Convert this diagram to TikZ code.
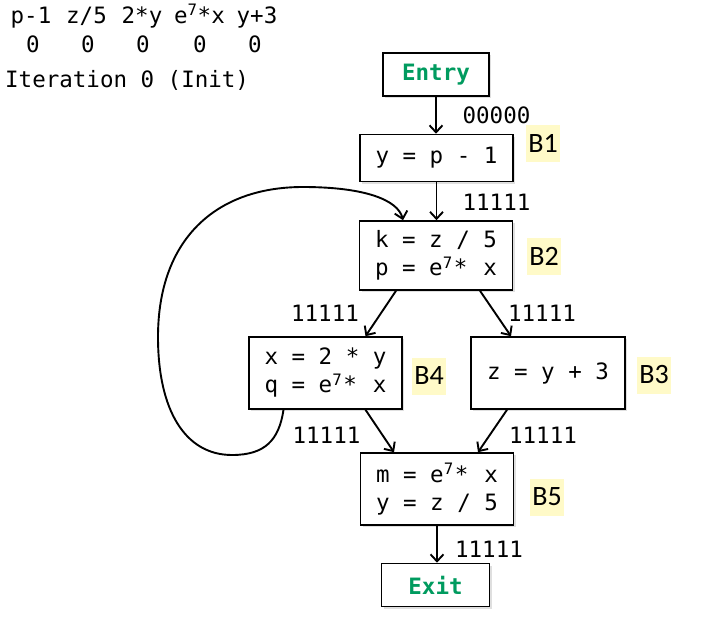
\documentclass[tikz,border=0pt]{standalone}
\usepackage{fontspec}
\setmonofont{DejaVu Sans Mono}
\newfontfamily\blabfont{Carlito}
\usetikzlibrary{arrows.meta,shadows}
\definecolor{entrygreen}{RGB}{0,155,95}
\definecolor{hl}{RGB}{255,250,200}
\newcommand\esev{e\makebox[27pt][l]{\textsuperscript{7}\kern1pt*}}
\begin{document}
\begin{tikzpicture}[x=1pt,y=-1pt,
  mono/.style={font=\ttfamily\fontsize{22.5}{28}\selectfont},
  blk/.style={draw, line width=1.6pt, fill=white, minimum width=153pt, minimum height=71pt, inner sep=0pt, align=left, mono,
    drop shadow={shadow xshift=2pt, shadow yshift=-2pt, opacity=0.25, fill=gray}},
  term/.style={blk, minimum width=106pt, minimum height=43pt, text=entrygreen, font=\ttfamily\bfseries\fontsize{22.5}{28}\selectfont},
  blab/.style={fill=hl, font=\blabfont\fontsize{28}{30}\selectfont, inner xsep=2pt, inner ysep=0pt, minimum height=37pt},
  elab/.style={mono, inner sep=0pt, anchor=base},
  flow/.style={line width=1.9pt, -{Straight Barb[length=7pt,width=13pt]}}]
\useasboundingbox (0,0) rectangle (708,621);

% header
\node[elab] (h1) at (31,23) {p-1};
\node[elab] (h2) at (86.5,23) {z/5};
\node[elab] (h3) at (142,23) {2*y};
\node[elab] (h4) at (199.5,23) {e\textsuperscript{7}*x};
\node[elab] (h5) at (257,23) {y+3};
\node[elab] (z1) at (33,52) {0};
\node[elab] (z2) at (88,52) {0};
\node[elab] (z3) at (143,52) {0};
\node[elab] (z4) at (200,52) {0};
\node[elab] (z5) at (255,52) {0};
\node[elab, anchor=base west] (iter) at (5,87) {Iteration 0 (Init)};

% blocks
\node[term] (entry) at (436,74.5) {Entry};
\node[blk, minimum height=47pt] (b1) at (436.5,158) {y = p - 1};
\node[blk, minimum height=69pt] (b2) at (436,255.5) {k = z / 5\\p = \esev{} x};
\node[blk, minimum height=72pt] (b4) at (325.5,373) {x = 2 * y\\q = \esev{} x};
\node[blk, minimum height=72pt, minimum width=154pt] (b3) at (548,373) {z = y + 3};
\node[blk, minimum height=72pt] (b5) at (437,489) {m = \esev{} x\\y = z / 5};
\node[term, minimum width=108pt] (exit) at (435.5,585) {Exit};

% block labels
\node[blab] (l1) at (543,143.5) {B1};
\node[blab] (l2) at (544,256) {B2};
\node[blab] (l4) at (429,376) {B4};
\node[blab] (l3) at (654,375) {B3};
\node[blab] (l5) at (547,497) {B5};

% edges
\draw[flow] (entry.south) -- (entry.south |- b1.north);
\draw[flow] (b1.south) -- (b1.south |- b2.north);
\draw[flow] ([xshift=-40pt]b2.south) -- ([xshift=40pt]b4.north);
\draw[flow] ([xshift=44pt]b2.south) -- ([xshift=-37pt]b3.north);
\draw[flow] ([xshift=40pt]b4.south) -- ([xshift=-43pt]b5.north);
\draw[flow] ([xshift=-41pt]b3.south) -- ([xshift=41pt]b5.north);
\draw[flow] (b5.south) -- (b5.south |- exit.north);
\draw[flow] ([xshift=-42pt]b4.south) .. controls (279,440) and (265,455) .. (232,455)
  .. controls (185,455) and (158,410) .. (158,337)
  .. controls (158,240) and (215,187) .. (303,187)
  .. controls (365,187) and (398,200) .. ([xshift=-33pt]b2.north);

% edge labels
\node[elab] (e0) at (496.5,123) {00000};
\node[elab] (e1) at (496.5,210) {11111};
\node[elab] (e2) at (325,321) {11111};
\node[elab] (e3) at (542,321) {11111};
\node[elab] (e4) at (326.5,443) {11111};
\node[elab] (e5) at (543,443) {11111};
\node[elab] (e6) at (489,557) {11111};
\end{tikzpicture}
\end{document}
